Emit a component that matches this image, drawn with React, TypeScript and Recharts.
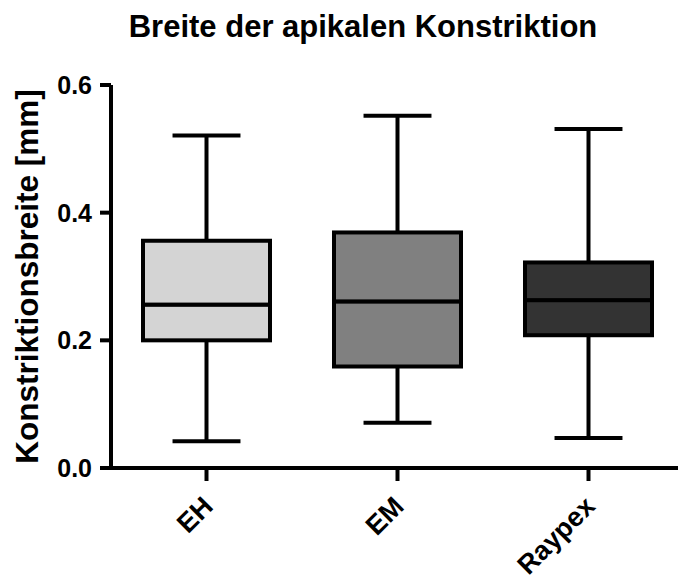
import React from 'react';
import { ComposedChart, Bar, XAxis, YAxis, Label, Customized } from 'recharts';

const categories = ['EH', 'EM', 'Raypex'];
const minValues = [0.042, 0.071, 0.047];
const q1Values = [0.2, 0.159, 0.208];
const medianValues = [0.256, 0.261, 0.263];
const q3Values = [0.356, 0.369, 0.322];
const maxValues = [0.521, 0.552, 0.531];
const yTicks = [0, 0.2, 0.4, 0.6];

const boxFills = ['#d4d4d4', '#808080', '#333333'];
const FONT = '"Liberation Sans", Arial, Helvetica, sans-serif';
const LW = 4;

const data = categories.map((name, i) => ({
  name,
  base: minValues[i],
  lowWhisker: q1Values[i] - minValues[i],
  lowBox: medianValues[i] - q1Values[i],
  highBox: q3Values[i] - medianValues[i],
  highWhisker: maxValues[i] - q3Values[i],
}));

const CAP_RATIO = 0.535;

const LowWhiskerShape = (props: any) => {
  const { x, y, width, height } = props;
  const cx = x + width / 2;
  const capW = width * CAP_RATIO;
  const yb = y + height;
  return (
    <g>
      <line x1={cx} y1={y} x2={cx} y2={yb} stroke="#000" strokeWidth={LW} />
      <line x1={cx - capW / 2} y1={yb} x2={cx + capW / 2} y2={yb} stroke="#000" strokeWidth={LW} />
    </g>
  );
};

const HighWhiskerShape = (props: any) => {
  const { x, y, width, height } = props;
  const cx = x + width / 2;
  const capW = width * CAP_RATIO;
  return (
    <g>
      <line x1={cx} y1={y} x2={cx} y2={y + height} stroke="#000" strokeWidth={LW} />
      <line x1={cx - capW / 2} y1={y} x2={cx + capW / 2} y2={y} stroke="#000" strokeWidth={LW} />
    </g>
  );
};

const BoxShape = (props: any) => {
  const { x, y, width, height, index } = props;
  return (
    <rect x={x} y={y} width={width} height={height} fill={boxFills[index]} stroke="#000" strokeWidth={LW} />
  );
};

const NoShape = () => <g />;

const XTick = (props: any) => {
  const { x, y, payload } = props;
  return (
    <text
      transform={`translate(${x + 8}, ${y + 25}) rotate(-45)`}
      textAnchor="end"
      fontSize={27}
      fontWeight="bold"
      fontFamily={FONT}
      fill="#000"
    >
      {payload.value}
    </text>
  );
};

const renderYLabel = (props: any) => {
  const vb = props.viewBox || { x: 0, y: 85, width: 111, height: 383 };
  const cy = vb.y + vb.height / 2;
  const lx = 38;
  return (
    <text
      x={lx}
      y={cy}
      transform={`rotate(-90, ${lx}, ${cy})`}
      textAnchor="middle"
      fontSize={31.5}
      fontWeight="bold"
      fontFamily={FONT}
      fill="#000"
    >
      Konstriktionsbreite [mm]
    </text>
  );
};

const Title = () => (
  <text x={363} y={37} textAnchor="middle" fontSize={31} fontWeight="bold" fontFamily={FONT} fill="#000">
    Breite der apikalen Konstriktion
  </text>
);

export default function App() {
  return (
    <div style={{ position: 'absolute', left: 0, top: 0, width: 678, height: 576, overflow: 'hidden', background: '#fff' }}>
      <ComposedChart
        width={690}
        height={576}
        data={data}
        margin={{ top: 85, right: 6, bottom: 0, left: 0 }}
      >
        <Customized component={Title} />
        <XAxis
          dataKey="name"
          height={108}
          axisLine={{ stroke: '#000', strokeWidth: LW }}
          tickLine={{ stroke: '#000', strokeWidth: LW }}
          tickSize={13}
          tickMargin={2}
          tick={<XTick />}
          interval={0}
        />
        <YAxis
          width={111}
          domain={[0, 0.6]}
          ticks={yTicks}
          allowDataOverflow
          tickFormatter={(v: number) => v.toFixed(1)}
          axisLine={{ stroke: '#000', strokeWidth: LW }}
          tickLine={{ stroke: '#000', strokeWidth: LW }}
          tickSize={11}
          tickMargin={8}
          tick={{ fontSize: 25, fontWeight: 'bold', fontFamily: FONT, fill: '#000' }}
        >
          <Label content={renderYLabel} />
        </YAxis>
        <Bar dataKey="base" stackId="box" barSize={127} shape={<NoShape />} isAnimationActive={false} />
        <Bar dataKey="lowWhisker" stackId="box" barSize={127} shape={<LowWhiskerShape />} isAnimationActive={false} />
        <Bar dataKey="lowBox" stackId="box" barSize={127} shape={<BoxShape />} isAnimationActive={false} />
        <Bar dataKey="highBox" stackId="box" barSize={127} shape={<BoxShape />} isAnimationActive={false} />
        <Bar dataKey="highWhisker" stackId="box" barSize={127} shape={<HighWhiskerShape />} isAnimationActive={false} />
      </ComposedChart>
    </div>
  );
}
